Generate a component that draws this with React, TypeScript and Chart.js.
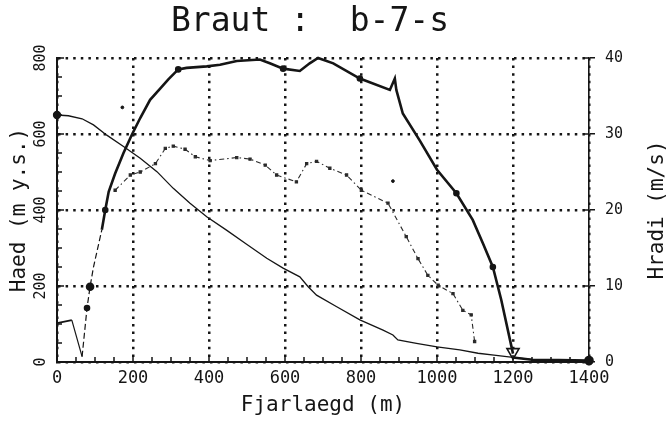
import React, { useEffect, useRef } from "react";
import { Chart, registerables } from "chart.js";

Chart.register(...registerables);

const TITLE = "Braut :  b-7-s";
const X_LABEL = "Fjarlaegd (m)";
const Y_LABEL = "Haed (m y.s.)";
const Y2_LABEL = "Hradi (m/s)";

const xTicks = [0, 200, 400, 600, 800, 1000, 1200, 1400];
const haedTicks = [0, 200, 400, 600, 800];
const hradiTicks = [0, 10, 20, 30, 40];

// Terrain profile (left axis, m y.s.)
const terrainDist = [0, 30, 66, 96, 131, 175, 219, 263, 306, 350, 394, 446, 499, 552, 595, 639, 661, 683, 735, 797, 858, 884, 897, 946, 1000, 1060, 1108, 1150, 1200, 1252, 1300, 1400];
const terrainHaed = [650, 648, 640, 624, 597, 567, 536, 501, 457, 418, 382, 347, 310, 273, 247, 224, 198, 176, 146, 111, 84, 71, 58, 49, 40, 32, 23, 18, 12, 6, 3, 2];

// Speed, model 1 (right axis, m/s)
const speedDist = [0, 39, 66, 79, 87, 96, 118, 127, 136, 153, 175, 197, 219, 245, 272, 293, 319, 341, 394, 429, 473, 534, 560, 595, 639, 665, 687, 727, 797, 876, 889, 893, 910, 954, 1000, 1051, 1094, 1121, 1147, 1169, 1200];
const speedHradi = [5.1, 5.5, 0.7, 7.1, 9.9, 12.5, 17.4, 20, 22.4, 24.8, 27.5, 29.9, 32.1, 34.5, 36, 37.2, 38.5, 38.7, 38.9, 39.1, 39.6, 39.8, 39.3, 38.6, 38.3, 39.3, 40, 39.3, 37.3, 35.8, 37.3, 35.8, 32.7, 29.2, 25.3, 22.2, 18.7, 15.6, 12.5, 8.2, 1.1];
const speedMarked = [79, 87, 127, 319, 595, 797, 1051, 1147];

// Tail along the bottom after the stop
const tailDist = [1200, 1250, 1320, 1400];
const tailHradi = [0.6, 0.3, 0.25, 0.2];

// Speed, model 2 (right axis, m/s)
const speed2Dist = [153, 193, 219, 259, 285, 306, 337, 364, 403, 473, 508, 548, 578, 630, 657, 683, 718, 762, 801, 871, 919, 950, 976, 1003, 1042, 1068, 1090, 1099];
const speed2Hradi = [22.6, 24.6, 25, 26.1, 28.1, 28.4, 28, 27, 26.5, 26.9, 26.7, 25.9, 24.6, 23.7, 26.1, 26.4, 25.5, 24.6, 22.6, 20.9, 16.5, 13.6, 11.4, 10.1, 9, 6.8, 6.2, 2.7];

// Stray marks
const strayDist = [172, 884];
const strayHradi = [33.5, 23.8];

// Stop point
const stopDist = [1200];
const stopHradi = [1.3];

const FONT = "'DejaVu Sans Mono', 'DejaVu Sans', monospace";
const INK = "#151515";

const toPts = (xs: number[], ys: number[]) => xs.map((x, i) => ({ x, y: ys[i] }));

const decorPlugin = {
  id: "decor",
  afterDraw(chart: any) {
    const { ctx, chartArea, scales } = chart;
    const xs = scales.x;
    const y = scales.y;
    const y2 = scales.y2;
    ctx.save();
    ctx.strokeStyle = INK;
    ctx.lineWidth = 1.5;
    ctx.beginPath();
    for (let v = 0; v <= 1400; v += 50) {
      const p = xs.getPixelForValue(v);
      const len = v % 200 === 0 ? 7 : 5;
      ctx.moveTo(p, chartArea.bottom);
      ctx.lineTo(p, chartArea.bottom - len);
    }
    for (let v = 0; v <= 800; v += 50) {
      const p = y.getPixelForValue(v);
      const len = v % 200 === 0 ? 7 : 5;
      ctx.moveTo(chartArea.left, p);
      ctx.lineTo(chartArea.left + len, p);
    }
    for (let v = 0; v <= 40; v += 10) {
      const p = y2.getPixelForValue(v);
      ctx.moveTo(chartArea.right - 6, p);
      ctx.lineTo(chartArea.right, p);
    }
    ctx.stroke();
    ctx.fillStyle = INK;
    // chart title
    ctx.font = `33px ${FONT}`;
    ctx.textAlign = "center";
    ctx.textBaseline = "middle";
    ctx.fillText(TITLE, 310, 22);
    // right axis title, reading bottom to top
    ctx.font = `21px ${FONT}`;
    ctx.translate(658, (chartArea.top + chartArea.bottom) / 2);
    ctx.rotate(-Math.PI / 2);
    ctx.fillText(Y2_LABEL, 0, 0);
    ctx.restore();
  },
};

export default function App() {
  const ref = useRef<HTMLCanvasElement | null>(null);
  useEffect(() => {
    if (!ref.current) return;
    const gridDash = [2.5, 5.1];
    const chart = new Chart(ref.current, {
      type: "line",
      data: {
        datasets: [
          {
            label: "Land",
            data: toPts(terrainDist, terrainHaed),
            yAxisID: "y",
            borderColor: INK,
            backgroundColor: INK,
            borderWidth: 1.3,
            pointRadius: (c: any) => (c.dataIndex === 0 || c.dataIndex === terrainDist.length - 1 ? 3.5 : 0),
            pointBackgroundColor: INK,
            clip: 10,
            tension: 0,
          },
          {
            label: "Hradi 1",
            data: toPts(speedDist, speedHradi),
            yAxisID: "y2",
            borderColor: INK,
            backgroundColor: INK,
            borderWidth: 2.6,
            pointRadius: (c: any) => {
              const d = speedDist[c.dataIndex];
              if (d === 87) return 3;
              return speedMarked.includes(d) ? 2 : 0;
            },
            pointStyle: "circle",
            segment: {
              borderWidth: (c: any) => (c.p1DataIndex <= 1 ? 1.8 : c.p1DataIndex <= 6 ? 1.2 : undefined),
              borderDash: (c: any) => (c.p0DataIndex >= 2 && c.p1DataIndex <= 6 ? [6, 3] : undefined),
            },
            clip: 10,
          },
          {
            label: "tail",
            data: toPts(tailDist, tailHradi),
            yAxisID: "y2",
            borderColor: INK,
            backgroundColor: INK,
            borderWidth: 2.6,
            pointRadius: (c: any) => (c.dataIndex === tailDist.length - 1 ? 3.5 : 0),
            clip: 10,
          },
          {
            label: "Hradi 2",
            data: toPts(speed2Dist, speed2Hradi),
            yAxisID: "y2",
            borderColor: "#2a2a2a",
            backgroundColor: "#2a2a2a",
            borderWidth: 1.1,
            borderDash: [5, 3, 1.5, 3],
            pointRadius: 1.6,
            pointStyle: "rect",
          },
          {
            label: "stray",
            data: toPts(strayDist, strayHradi),
            yAxisID: "y2",
            showLine: false,
            borderColor: INK,
            backgroundColor: INK,
            pointRadius: 1.4,
          },
          {
            label: "stop",
            data: toPts(stopDist, stopHradi),
            yAxisID: "y2",
            showLine: false,
            pointStyle: "triangle",
            rotation: 180,
            pointRadius: 7,
            borderColor: INK,
            borderWidth: 1.6,
            backgroundColor: "#ffffff",
            clip: false,
          },
        ],
      },
      options: {
        animation: false,
        responsive: false,
        layout: { padding: { left: 0, right: 0, top: 58, bottom: 0 } },
        plugins: {
          legend: { display: false },
          tooltip: { enabled: false },
          title: { display: false },
        },
        scales: {
          x: {
            type: "linear",
            min: 0,
            max: 1400,
            afterBuildTicks: (s: any) => {
              s.ticks = xTicks.map((v) => ({ value: v }));
            },
            afterFit: (s: any) => {
              s.height = 65;
            },
            grid: { color: INK, lineWidth: 2.5, drawTicks: false },
            border: { display: true, color: INK, width: 2, dash: gridDash },
            ticks: {
              color: INK,
              font: { family: FONT, size: 17 },
              padding: 6,
              maxRotation: 0,
              callback: (v: any) => String(v),
            },
            title: {
              display: true,
              text: X_LABEL,
              color: INK,
              font: { family: FONT, size: 21 },
              padding: { top: 0, bottom: 9 },
            },
          },
          y: {
            type: "linear",
            position: "left",
            min: 0,
            max: 800,
            afterBuildTicks: (s: any) => {
              s.ticks = haedTicks.map((v) => ({ value: v }));
            },
            afterFit: (s: any) => {
              s.width = 57;
            },
            grid: { color: INK, lineWidth: 2.5, drawTicks: false },
            border: { display: true, color: INK, width: 2, dash: gridDash },
            ticks: {
              color: INK,
              font: { family: FONT, size: 15 },
              minRotation: 90,
              maxRotation: 90,
              crossAlign: "center",
              padding: 2,
            },
            title: {
              display: true,
              text: Y_LABEL,
              color: INK,
              font: { family: FONT, size: 21 },
              padding: { top: 7, bottom: 0 },
            },
          },
          y2: {
            type: "linear",
            position: "right",
            min: 0,
            max: 40,
            afterBuildTicks: (s: any) => {
              s.ticks = hradiTicks.map((v) => ({ value: v }));
            },
            afterFit: (s: any) => {
              s.width = 80;
            },
            grid: { drawOnChartArea: false, color: INK, lineWidth: 1.5, tickLength: 6 },
            border: { display: true, color: INK, width: 1.6 },
            ticks: {
              color: INK,
              font: { family: FONT, size: 15 },
              padding: 10,
            },
          },
        },
      } as any,
      plugins: [decorPlugin],
    });
    return () => chart.destroy();
  }, []);

  return (
    <div style={{ position: "fixed", left: 0, top: 0, width: 669, height: 427, background: "#fff" }}>
      <canvas ref={ref} width={669} height={427} style={{ display: "block" }} />
    </div>
  );
}
